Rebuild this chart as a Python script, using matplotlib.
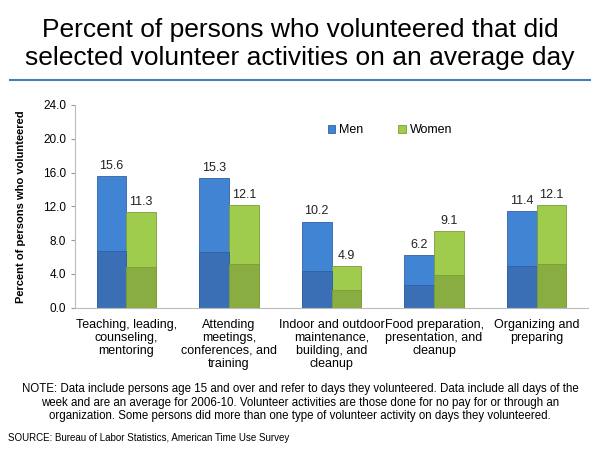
import matplotlib.pyplot as plt
import numpy as np

plt.rcParams['font.family'] = ['Liberation Sans', 'DejaVu Sans']

categories = ['Teaching, leading,\ncounseling,\nmentoring',
              'Attending\nmeetings,\nconferences, and\ntraining',
              'Indoor and outdoor\nmaintenance,\nbuilding, and\ncleanup',
              'Food preparation,\npresentation, and\ncleanup',
              'Organizing and\npreparing']
men = [15.6, 15.3, 10.2, 6.2, 11.4]
women = [11.3, 12.1, 4.9, 9.1, 12.1]
yticks_vals = [0, 4, 8, 12, 16, 20, 24]

fig = plt.figure(figsize=(6, 4.5), dpi=100)
fig.text(0.5, 0.902, 'Percent of persons who volunteered that did\nselected volunteer activities on an average day',
         ha='center', va='center', fontsize=19, linespacing=1.2)
fig.add_artist(plt.Line2D([0.017, 0.983], [0.822, 0.822], color='#4a7ebb', lw=1.5))

ax = fig.add_axes([0.125, 0.316, 0.855, 0.451])
x = np.arange(len(categories))
w = 0.29
b1 = ax.bar(x - w / 2, men, w, color='#4184d4', edgecolor='#2f62a6', lw=0.6, label='Men')
b2 = ax.bar(x + w / 2, women, w, color='#a0cc4d', edgecolor='#7a9e34', lw=0.6, label='Women')
# slightly darker lower part of each bar, like the shaded original
ax.bar(x - w / 2, np.array(men) * 0.43, w, color='#3a6fb5', edgecolor='#2f62a6', lw=0.6)
ax.bar(x + w / 2, np.array(women) * 0.43, w, color='#89ad40', edgecolor='#7a9e34', lw=0.6)
for bars, vals in ((b1, men), (b2, women)):
    for r, v in zip(bars, vals):
        ax.text(r.get_x() + r.get_width() / 2, v + 0.5, '%.1f' % v,
                ha='center', va='bottom', fontsize=9, color='#222222')

ax.set_xlim(-0.5, len(categories) - 0.5)
ax.set_ylim(0, 24)
ax.set_yticks(yticks_vals)
ax.set_yticklabels(['%.1f' % v for v in yticks_vals], fontsize=8.5)
ax.set_xticks(x)
ax.set_xticklabels(categories, fontsize=9, linespacing=1.1)
ax.tick_params(axis='x', length=0, pad=8)
ax.tick_params(axis='y', length=3, color='#999999')
for s in ('top', 'right'):
    ax.spines[s].set_visible(False)
ax.spines['left'].set_color('#bbbbbb')
ax.spines['bottom'].set_color('#bbbbbb')
ax.set_ylabel('Percent of persons who volunteered', fontsize=8, fontweight='bold', labelpad=12)

ax.legend(handles=[b1, b2], loc='center', bbox_to_anchor=(0.614, 0.875), ncol=2, frameon=False,
          fontsize=9, handlelength=0.6, handleheight=0.6, columnspacing=2.8, handletextpad=0.3)

fig.text(0.5, 0.105, 'NOTE: Data include persons age 15 and over and refer to days they volunteered. Data include all days of the\n'
         'week and are an average for 2006-10. Volunteer activities are those done for no pay for or through an\n'
         'organization. Some persons did more than one type of volunteer activity on days they volunteered.',
         ha='center', va='center', fontsize=8.3, linespacing=1.15)
fig.text(0.013, 0.027, 'SOURCE: Bureau of Labor Statistics, American Time Use Survey',
         ha='left', va='center', fontsize=7)

fig.savefig('out.png', dpi=100)
